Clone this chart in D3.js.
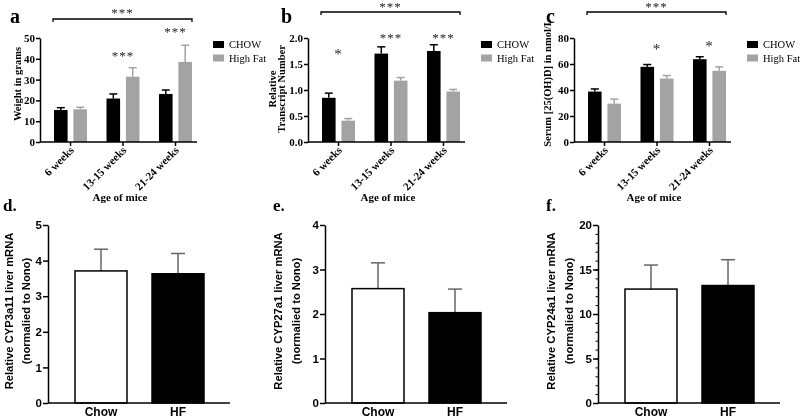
<!DOCTYPE html>
<html><head><meta charset="utf-8">
<script src="https://cdn.jsdelivr.net/npm/d3@7"></script>
<style>
body{margin:0;background:#fff}
svg{display:block;will-change:transform}
</style></head><body>
<svg id="c" width="800" height="419"></svg>
<script>
// ---------- DATA ----------
const ageGroups = ["6 weeks", "13-15 weeks", "21-24 weeks"];
const dietSeries = ["CHOW", "High Fat"];

const weightChow = [15.4, 20.9, 23.1];
const weightChowErr = [1.1, 2.2, 1.9];
const weightHF = [15.7, 31.4, 38.5];
const weightHFErr = [1.0, 4.3, 8.0];
const weightTicks = [0, 10, 20, 30, 40, 50];
const weightStars = ["", "***", "***"];
const weightStarLevel = [0, 39.4, 51];

const transcriptChow = [0.85, 1.70, 1.75];
const transcriptChowErr = [0.09, 0.13, 0.12];
const transcriptHF = [0.41, 1.18, 0.97];
const transcriptHFErr = [0.04, 0.06, 0.04];
const transcriptTicks = [0, 0.5, 1.0, 1.5, 2.0];
const transcriptStars = ["*", "***", "***"];
const transcriptStarLevel = [1.6, 1.92, 1.92];

const serumChow = [38.8, 57.8, 63.7];
const serumChowErr = [2.0, 1.8, 1.9];
const serumHF = [29.5, 48.8, 54.8];
const serumHFErr = [3.5, 2.3, 3.0];
const serumTicks = [0, 20, 40, 60, 80];
const serumStars = ["", "*", "*"];
const serumStarLevel = [0, 67.7, 70];

const liverCats = ["Chow", "HF"];
const cyp3a11 = [3.71, 3.63];
const cyp3a11Err = [0.61, 0.57];
const cyp3a11Ticks = [0, 1, 2, 3, 4, 5];
const cyp27a1 = [2.57, 2.03];
const cyp27a1Err = [0.58, 0.53];
const cyp27a1Ticks = [0, 1, 2, 3, 4];
const cyp24a1 = [12.8, 13.2];
const cyp24a1Err = [2.7, 2.9];
const cyp24a1Ticks = [0, 5, 10, 15, 20];
const cyp24a1Minor = d3.range(0, 21, 1);

// ---------- DRAW ----------
const svg = d3.select("#c");
const SERIF = "'Liberation Serif','Times New Roman',serif";
const SANS = "'Liberation Sans',Arial,sans-serif";
const GRAY = "#a3a3a3";

function topPanel(o) {
  const g = svg.append("g");
  const ax = o.axisX;
  const y = d3.scaleLinear().domain([0, o.yMax]).range([142, 38]);
  const x0 = d3.scaleBand().domain(ageGroups).range([ax + 14, ax + 152]).paddingInner(0.371);
  const x1 = d3.scaleBand().domain(dietSeries).range([0, x0.bandwidth()]).paddingInner(0.3);
  const vals = {CHOW: o.chow, "High Fat": o.hf};
  const errs = {CHOW: o.chowErr, "High Fat": o.hfErr};
  const col = {CHOW: "#000", "High Fat": GRAY};

  dietSeries.forEach(s => {
    ageGroups.forEach((grp, i) => {
      const cx = x0(grp) + x1(s) + x1.bandwidth() / 2;
      const top = vals[s][i] + errs[s][i];
      g.append("line").attr("x1", cx).attr("x2", cx)
        .attr("y1", y(vals[s][i])).attr("y2", y(top))
        .attr("stroke", col[s]).attr("stroke-width", 1.5);
      g.append("line").attr("x1", cx - 4).attr("x2", cx + 4)
        .attr("y1", y(top)).attr("y2", y(top))
        .attr("stroke", col[s]).attr("stroke-width", 1.5);
      g.append("rect").attr("x", x0(grp) + x1(s)).attr("y", y(vals[s][i]))
        .attr("width", x1.bandwidth()).attr("height", y(0) - y(vals[s][i]))
        .attr("fill", col[s]);
    });
  });

  // y axis
  const ya = g.append("g").attr("transform", `translate(${ax},0)`)
    .call(d3.axisLeft(y).tickValues(o.ticks).tickFormat(o.fmt).tickSize(4).tickSizeOuter(0));
  ya.select(".domain").attr("stroke-width", 1.5);
  ya.selectAll(".tick line").attr("stroke-width", 1.5);
  ya.selectAll("text").attr("font-family", SERIF).attr("font-weight", "bold").attr("font-size", 11).attr("x", -5);

  // x axis
  const xa = g.append("g").attr("transform", "translate(0,142)")
    .call(d3.axisBottom(x0).tickSize(4).tickSizeOuter(0));
  xa.select(".domain").remove();
  xa.selectAll(".tick line").attr("stroke-width", 1.5);
  xa.selectAll("text").attr("font-family", SERIF).attr("font-weight", "bold").attr("font-size", 11)
    .attr("x", 0).attr("y", 0).attr("dy", 0)
    .attr("transform", "translate(4,9) rotate(-45)").style("text-anchor", "end");
  g.append("line").attr("x1", ax).attr("x2", ax + 157).attr("y1", 142).attr("y2", 142)
    .attr("stroke", "#000").attr("stroke-width", 1.5);

  // stars
  ageGroups.forEach((grp, i) => {
    if (!o.stars[i]) return;
    g.append("text").attr("x", x0(grp) + x0.bandwidth() / 2).attr("y", y(o.starLevel[i]))
      .attr("text-anchor", "middle").attr("font-family", SERIF).attr("fill", "#222")
      .attr("font-size", o.stars[i] === "*" ? 15 : 13).attr("letter-spacing", 1)
      .text(o.stars[i]);
  });

  // bracket
  const bx1 = x0(ageGroups[0]) - 1, bx2 = x0(ageGroups[2]) + x0.bandwidth();
  g.append("path").attr("d", `M${bx1},${o.brY + 3}V${o.brY}H${bx2}V${o.brY + 3}`)
    .attr("fill", "none").attr("stroke", "#000").attr("stroke-width", 1.3);
  g.append("text").attr("x", (bx1 + bx2) / 2).attr("y", Math.max(o.brY - 2, 11)).attr("text-anchor", "middle")
    .attr("font-family", SERIF).attr("fill", "#222").attr("font-size", 13).attr("letter-spacing", 1).text("***");

  // letter
  g.append("text").attr("x", o.letterX).attr("y", 23).attr("font-family", SERIF)
    .attr("font-weight", "bold").attr("font-size", 20).text(o.letter);

  // y title
  o.title.forEach((t, k) => {
    const bx = o.titleX[k];
    g.append("text").attr("transform", `translate(${bx},${o.titleY}) rotate(-90)`)
      .attr("text-anchor", "middle").attr("font-family", SERIF).attr("font-weight", "bold")
      .attr("font-size", 10.5).text(t);
  });

  // x title
  g.append("text").attr("x", ax + 80).attr("y", 201).attr("text-anchor", "middle")
    .attr("font-family", SERIF).attr("font-weight", "bold").attr("font-size", 11).text("Age of mice");

  // legend
  dietSeries.forEach((s, k) => {
    g.append("rect").attr("x", ax + 173).attr("y", 41 + k * 13.5).attr("width", 11).attr("height", 7)
      .attr("fill", col[s]);
    g.append("text").attr("x", ax + 189).attr("y", 48 + k * 13.5).attr("font-family", SERIF)
      .attr("font-size", 10.5).text(s);
  });
}

topPanel({axisX: 40, yMax: 50, ticks: weightTicks, fmt: d3.format("d"),
  chow: weightChow, chowErr: weightChowErr, hf: weightHF, hfErr: weightHFErr,
  stars: weightStars, starLevel: weightStarLevel, brY: 19, letter: "a", letterX: 10,
  title: ["Weight in grams"], titleX: [21], titleY: 84});
topPanel({axisX: 308, yMax: 2, ticks: transcriptTicks, fmt: d3.format(".1f"),
  chow: transcriptChow, chowErr: transcriptChowErr, hf: transcriptHF, hfErr: transcriptHFErr,
  stars: transcriptStars, starLevel: transcriptStarLevel, brY: 12, letter: "b", letterX: 281,
  title: ["Relative", "Transcript Number"], titleX: [276, 285], titleY: 89});
topPanel({axisX: 574, yMax: 80, ticks: serumTicks, fmt: d3.format("d"),
  chow: serumChow, chowErr: serumChowErr, hf: serumHF, hfErr: serumHFErr,
  stars: serumStars, starLevel: serumStarLevel, brY: 12, letter: "c", letterX: 546,
  title: ["Serum [25(OH)D] in nmol/L"], titleX: [551], titleY: 83});

function bottomPanel(o) {
  const g = svg.append("g");
  const ax = o.axisX;
  const y = d3.scaleLinear().domain([0, o.yMax]).range([403, 225]);
  const x = d3.scaleBand().domain(liverCats).range([ax + 27, ax + 156]).paddingInner(0.325);
  const fills = ["#fff", "#000"];
  liverCats.forEach((c, i) => {
    const cx = x(c) + x.bandwidth() / 2;
    const top = o.vals[i] + o.errs[i];
    g.append("line").attr("x1", cx).attr("x2", cx).attr("y1", y(o.vals[i])).attr("y2", y(top))
      .attr("stroke", "#666").attr("stroke-width", 1.5);
    g.append("line").attr("x1", cx - 7).attr("x2", cx + 7).attr("y1", y(top)).attr("y2", y(top))
      .attr("stroke", "#666").attr("stroke-width", 1.5);
    g.append("rect").attr("x", x(c)).attr("y", y(o.vals[i]))
      .attr("width", x.bandwidth()).attr("height", y(0) - y(o.vals[i]))
      .attr("fill", fills[i]).attr("stroke", "#000").attr("stroke-width", 1.5);
  });
  if (o.minor) {
    g.append("g").attr("transform", `translate(${ax},0)`)
      .call(d3.axisLeft(y).tickValues(o.minor).tickFormat("").tickSize(2.5).tickSizeOuter(0))
      .call(s => s.select(".domain").remove());
  }
  const ya = g.append("g").attr("transform", `translate(${ax},0)`)
    .call(d3.axisLeft(y).tickValues(o.ticks).tickFormat(d3.format("d")).tickSize(5).tickSizeOuter(0));
  ya.select(".domain").attr("stroke-width", 1.5);
  ya.selectAll(".tick line").attr("stroke-width", 1.5);
  ya.selectAll("text").attr("font-family", SANS).attr("font-weight", "bold").attr("font-size", 11.5).attr("x", -6);

  const xa = g.append("g").attr("transform", "translate(0,403)")
    .call(d3.axisBottom(x).tickSize(0).tickSizeOuter(0));
  xa.select(".domain").remove();
  xa.selectAll("text").attr("font-family", SANS).attr("font-weight", "bold").attr("font-size", 12)
    .attr("y", 13).attr("dy", 0);
  g.append("line").attr("x1", ax).attr("x2", ax + 182).attr("y1", 403).attr("y2", 403)
    .attr("stroke", "#000").attr("stroke-width", 1.5);

  o.title.forEach((t, k) => {
    g.append("text").attr("transform", `translate(${o.titleX[k]},311) rotate(-90)`)
      .attr("text-anchor", "middle").attr("font-family", SANS).attr("font-weight", "bold")
      .attr("font-size", 11.2).text(t);
  });
  g.append("text").attr("x", o.letterX).attr("y", 211).attr("font-family", SERIF)
    .attr("font-weight", "bold").attr("font-size", 17).text(o.letter);
}

bottomPanel({axisX: 48, yMax: 5, ticks: cyp3a11Ticks, vals: cyp3a11, errs: cyp3a11Err,
  title: ["Relative CYP3a11 liver mRNA", "(normalied to Nono)"], titleX: [13, 30], letter: "d.", letterX: 3});
bottomPanel({axisX: 325, yMax: 4, ticks: cyp27a1Ticks, vals: cyp27a1, errs: cyp27a1Err,
  title: ["Relative CYP27a1 liver mRNA", "(normalied to Nono)"], titleX: [282, 300], letter: "e.", letterX: 273});
bottomPanel({axisX: 598, yMax: 20, ticks: cyp24a1Ticks, vals: cyp24a1, errs: cyp24a1Err, minor: cyp24a1Minor,
  title: ["Relative CYP24a1 liver mRNA", "(normalied to Nono)"], titleX: [555, 573], letter: "f.", letterX: 546});
</script>
</body></html>
